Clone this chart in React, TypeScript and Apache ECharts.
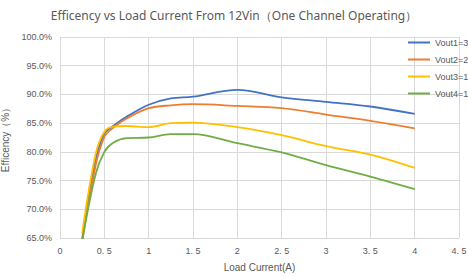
import React, { useEffect, useRef } from "react";
import * as echarts from "echarts";

const seriesNames = ["Vout1=3", "Vout2=2", "Vout3=1", "Vout4=1"];
const colors = ["#4472C4", "#ED7D31", "#FFC000", "#70AD47"];
const current = [0.25, 0.4, 0.5, 0.6, 0.75, 1, 1.25, 1.5, 2, 2.5, 3, 3.5, 4];
const vout1 = [64.8, 78.5, 83.2, 84.5, 86.1, 88.2, 89.3, 89.6, 90.8, 89.5, 88.7, 87.9, 86.6];
const vout2 = [64.3, 77.5, 82.6, 84.2, 85.8, 87.6, 88.1, 88.3, 88.0, 87.6, 86.5, 85.4, 84.1];
const vout3 = [65.8, 79.5, 83.5, 84.4, 84.5, 84.3, 85.0, 85.1, 84.3, 82.9, 81.0, 79.5, 77.2];
const vout4 = [64.5, 76.0, 80.0, 81.6, 82.4, 82.5, 83.1, 83.1, 81.5, 79.9, 77.7, 75.7, 73.5];
const allValues = [vout1, vout2, vout3, vout4];

export default function App() {
  const ref = useRef<HTMLDivElement>(null);
  useEffect(() => {
    const chart = echarts.init(ref.current!, null, { renderer: "svg" });
    chart.setOption({
      animation: false,
      backgroundColor: "#ffffff",
      title: {
        text: "Efficency vs Load Current From 12Vin（One Channel Operating）",
        left: "center",
        top: 4,
        textStyle: { fontSize: 12, fontWeight: "normal", color: "#595959", fontFamily: "Noto Sans" },
      },
      legend: {
        orient: "vertical",
        left: 408,
        top: 37,
        width: 60,
        padding: 0,
        icon: "rect",
        itemWidth: 22,
        itemHeight: 2,
        itemGap: 6,
        data: seriesNames,
        textStyle: { fontSize: 9, color: "#595959", overflow: "none", width: 40, lineHeight: 11, fontFamily: "Liberation Sans" },
      },
      grid: { left: 60, right: 9, top: 37, bottom: 38, outerBoundsMode: "none", containLabel: false },
      xAxis: {
        type: "value",
        min: 0,
        max: 4.5,
        interval: 0.5,
        name: "Load Current(A)",
        nameLocation: "middle",
        nameGap: 24,
        nameTextStyle: { fontSize: 10, color: "#595959" },
        axisLine: { show: false },
        axisTick: { show: false },
        splitLine: { show: true, lineStyle: { color: "#d9d9d9" } },
        axisLabel: {
          fontSize: 9,
          color: "#595959",
          fontFamily: "Liberation Sans",
          hideOverlap: false,
          formatter: (v: number) => (Number.isInteger(v) ? String(v) : v.toFixed(1).replace(".", ". ")),
        },
      },
      yAxis: {
        type: "value",
        min: 65,
        max: 100,
        interval: 5,
        name: "Efficency（%）",
        nameLocation: "middle",
        nameGap: 41,
        nameTextStyle: { fontSize: 10, color: "#595959" },
        axisLine: { show: false },
        axisTick: { show: false },
        splitLine: { show: true, lineStyle: { color: "#d9d9d9" } },
        axisLabel: {
          fontSize: 9,
          color: "#595959",
          margin: 8,
          formatter: (v: number) => v.toFixed(1) + "%",
        },
      },
      series: seriesNames.map((name, i) => ({
        name,
        type: "line",
        smooth: 0.35,
        symbol: "none",
        clip: true,
        lineStyle: { width: 1.8, color: colors[i] },
        itemStyle: { color: colors[i] },
        data: current.map((c, j) => [c, allValues[i][j]]),
      })),
    });
    return () => chart.dispose();
  }, []);
  return (
    <div
      ref={ref}
      style={{ position: "fixed", left: 0, top: 0, width: 468, height: 276 }}
    />
  );
}
